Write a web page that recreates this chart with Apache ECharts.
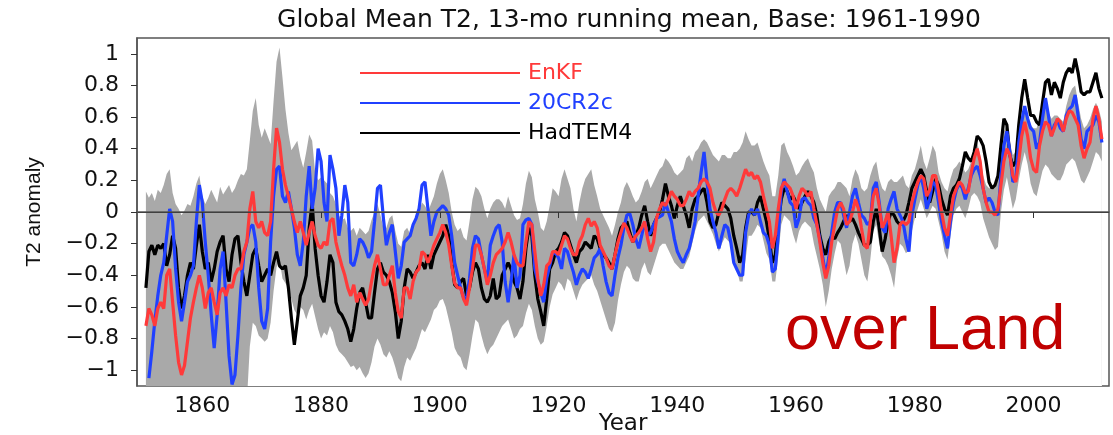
<!DOCTYPE html>
<html>
<head>
<meta charset="utf-8">
<script src="https://cdn.jsdelivr.net/npm/echarts@6/dist/echarts.min.js"></script>
<style>html,body{margin:0;padding:0;background:#fff;}#c{width:1113px;height:435px;}</style>
</head>
<body>
<div id="c"></div>
<script>
// Time axis: 13-month running mean sampled every half year
const startYear = 1850.5;
const stepYear = 0.5;
const xTicks = [1860, 1880, 1900, 1920, 1940, 1960, 1980, 2000];
const yTicks = [-1, -0.8, -0.6, -0.4, -0.2, 0, 0.2, 0.4, 0.6, 0.8, 1];

const hadtem4 = [
-0.48,-0.25,-0.21,-0.27,-0.21,-0.23,-0.2,-0.34,-0.27,-0.15,
-0.23,-0.48,-0.61,-0.53,-0.4,-0.32,-0.36,-0.21,-0.08,-0.25,
-0.36,-0.32,-0.44,-0.36,-0.25,-0.19,-0.15,-0.36,-0.44,-0.27,
-0.17,-0.15,-0.32,-0.44,-0.53,-0.4,-0.27,-0.23,-0.34,-0.44,
-0.4,-0.36,-0.4,-0.32,-0.25,-0.34,-0.36,-0.34,-0.48,-0.67,
-0.84,-0.69,-0.53,-0.48,-0.4,-0.1,0.06,-0.23,-0.4,-0.53,
-0.57,-0.44,-0.27,-0.32,-0.57,-0.63,-0.65,-0.69,-0.74,-0.82,
-0.74,-0.61,-0.51,-0.48,-0.57,-0.67,-0.67,-0.51,-0.36,-0.32,
-0.38,-0.4,-0.44,-0.51,-0.63,-0.8,-0.69,-0.48,-0.36,-0.38,
-0.42,-0.38,-0.34,-0.32,-0.36,-0.27,-0.36,-0.27,-0.23,-0.19,
-0.15,-0.08,-0.15,-0.32,-0.46,-0.48,-0.44,-0.42,-0.53,-0.48,
-0.38,-0.32,-0.36,-0.48,-0.55,-0.57,-0.53,-0.42,-0.55,-0.53,
-0.4,-0.36,-0.32,-0.36,-0.44,-0.48,-0.55,-0.44,-0.23,-0.1,
-0.15,-0.4,-0.55,-0.63,-0.72,-0.55,-0.36,-0.32,-0.25,-0.23,
-0.19,-0.13,-0.15,-0.21,-0.27,-0.32,-0.25,-0.23,-0.19,-0.21,
-0.23,-0.15,-0.17,-0.23,-0.27,-0.29,-0.32,-0.36,-0.27,-0.17,
-0.1,-0.08,-0.06,-0.13,-0.19,-0.15,-0.1,-0.02,0.04,-0.06,
-0.15,-0.08,-0.04,0,0.08,0.18,0.1,0.04,-0.04,0.04,
0.1,0.04,-0.02,-0.1,0.02,0.08,0.1,0.13,0.15,0.06,
-0.06,-0.1,-0.08,0,0.06,0.04,0.02,-0.04,-0.15,-0.23,
-0.32,-0.27,-0.1,0,0,-0.02,0.06,0.1,0.02,-0.06,
-0.17,-0.32,-0.27,-0.08,0.08,0.15,0.13,0.08,0.1,0.06,
0.02,0.06,0.1,0.13,0.1,0.06,-0.02,-0.15,-0.23,-0.27,
-0.19,-0.15,-0.17,-0.13,-0.1,-0.06,-0.02,-0.06,-0.04,-0.08,
-0.13,-0.17,-0.21,-0.21,-0.19,-0.06,0.02,-0.1,-0.25,-0.17,
-0.06,0,-0.02,-0.06,-0.08,-0.06,-0.02,0.06,0.15,0.19,
0.23,0.27,0.23,0.13,0.06,0.13,0.21,0.17,0.08,0.02,
-0.02,0.1,0.15,0.17,0.21,0.29,0.38,0.34,0.32,0.38,
0.48,0.46,0.42,0.32,0.19,0.15,0.17,0.23,0.42,0.59,
0.55,0.36,0.29,0.32,0.55,0.72,0.84,0.72,0.61,0.61,
0.57,0.55,0.69,0.82,0.84,0.74,0.82,0.78,0.72,0.82,
0.88,0.91,0.88,0.97,0.88,0.76,0.74,0.76,0.76,0.82,
0.88,0.78,0.72
];

const enkf = [
-0.72,-0.61,-0.65,-0.72,-0.61,-0.57,-0.61,-0.4,-0.36,-0.57,
-0.78,-0.95,-1.03,-0.97,-0.82,-0.67,-0.57,-0.48,-0.4,-0.48,
-0.61,-0.51,-0.48,-0.57,-0.65,-0.51,-0.48,-0.53,-0.46,-0.48,
-0.4,-0.36,-0.36,-0.25,-0.19,0.02,0.13,-0.06,-0.1,-0.06,
-0.13,-0.15,-0.06,0.27,0.53,0.44,0.27,0.17,0.1,0.02,
-0.06,-0.13,-0.06,-0.13,-0.21,-0.13,-0.06,-0.15,-0.21,-0.23,
-0.19,-0.21,-0.06,-0.04,-0.19,-0.27,-0.34,-0.4,-0.48,-0.53,
-0.46,-0.57,-0.51,-0.55,-0.59,-0.55,-0.44,-0.34,-0.27,-0.36,
-0.46,-0.46,-0.4,-0.34,-0.51,-0.63,-0.67,-0.48,-0.48,-0.55,
-0.44,-0.38,-0.36,-0.25,-0.27,-0.32,-0.27,-0.21,-0.17,-0.13,
-0.08,-0.13,-0.21,-0.34,-0.45,-0.48,-0.48,-0.55,-0.59,-0.48,
-0.36,-0.21,-0.21,-0.27,-0.36,-0.46,-0.4,-0.32,-0.27,-0.25,
-0.23,-0.19,-0.13,-0.19,-0.27,-0.32,-0.34,-0.34,-0.19,-0.06,
-0.08,-0.25,-0.42,-0.53,-0.46,-0.34,-0.32,-0.25,-0.25,-0.27,
-0.21,-0.15,-0.17,-0.23,-0.27,-0.27,-0.19,-0.15,-0.08,-0.04,
-0.09,-0.06,-0.1,-0.21,-0.25,-0.29,-0.34,-0.36,-0.27,-0.19,
-0.13,-0.07,-0.1,-0.15,-0.19,-0.15,-0.13,-0.1,-0.06,-0.17,
-0.25,-0.19,-0.04,0.02,0.06,0.04,0.08,0.13,0.1,0.08,
0.04,0.04,0.08,0.13,0.1,0.13,0.15,0.19,0.21,0.19,
0.15,0.06,0,-0.02,0.02,0.08,0.13,0.15,0.13,0.1,
0.15,0.21,0.27,0.23,0.25,0.21,0.23,0.19,0.1,0.02,
-0.06,-0.23,-0.15,0.02,0.15,0.19,0.17,0.15,0.1,0.02,
0.1,0.15,0.13,0.1,0.13,0.02,-0.08,-0.19,-0.32,-0.42,
-0.34,-0.19,-0.08,0.02,0.06,0.02,-0.08,-0.06,0,0.08,
0.02,-0.1,-0.21,-0.23,-0.06,0.1,0.15,0.04,-0.1,-0.06,
0,-0.15,-0.32,-0.23,-0.08,-0.06,-0.08,-0.06,0.06,0.13,
0.19,0.23,0.21,0.1,0.14,0.23,0.23,0.13,0,-0.1,
-0.15,-0.02,0.1,0.15,0.19,0.17,0.12,0.13,0.25,0.34,
0.4,0.32,0.15,0.06,0,0,-0.02,0.02,0.17,0.32,
0.4,0.36,0.23,0.19,0.32,0.48,0.57,0.48,0.34,0.27,
0.25,0.42,0.51,0.57,0.55,0.48,0.53,0.59,0.57,0.51,
0.59,0.64,0.63,0.59,0.55,0.42,0.34,0.4,0.44,0.59,
0.67,0.59,0.46
];

const cr20c = [
null,-1.05,-0.88,-0.69,-0.53,-0.4,-0.32,-0.15,0.02,-0.06,
-0.36,-0.57,-0.69,-0.57,-0.44,-0.4,-0.34,-0.06,0.17,0.06,
-0.19,-0.4,-0.65,-0.86,-0.65,-0.36,-0.25,-0.57,-0.91,-1.09,
-1.03,-0.78,-0.48,-0.27,-0.19,-0.1,-0.08,-0.19,-0.48,-0.69,
-0.74,-0.61,-0.19,0.1,0.27,0.29,0.1,0.06,0.13,0.02,
-0.1,-0.27,-0.34,-0.19,0.1,0.29,0.02,0.15,0.4,0.32,
0.06,-0.06,0.36,0.27,0.15,-0.15,-0.02,0.17,0.06,-0.32,
-0.34,-0.27,-0.17,-0.19,-0.23,-0.29,-0.25,-0.06,0.15,0.17,
-0.04,-0.21,-0.13,-0.08,-0.25,-0.42,-0.34,-0.19,-0.17,-0.15,
-0.08,-0.04,0.02,0.17,0.19,0.02,-0.15,-0.06,0,0.02,
0.04,0.02,-0.02,-0.15,-0.32,-0.4,-0.48,-0.54,-0.55,-0.42,
-0.23,-0.15,-0.17,-0.27,-0.36,-0.44,-0.21,-0.15,-0.1,-0.08,
-0.19,-0.44,-0.57,-0.44,-0.27,-0.48,-0.4,-0.08,-0.05,-0.04,
-0.08,-0.36,-0.44,-0.51,-0.57,-0.42,-0.34,-0.26,-0.26,-0.29,
-0.36,-0.23,-0.25,-0.32,-0.38,-0.46,-0.4,-0.36,-0.38,-0.42,
-0.36,-0.29,-0.27,-0.23,-0.34,-0.44,-0.51,-0.53,-0.4,-0.29,
-0.21,-0.1,-0.02,-0.01,-0.08,-0.17,-0.23,-0.15,-0.06,-0.15,
-0.13,-0.08,-0.04,-0.03,-0.02,0.06,0,-0.06,-0.17,-0.25,
-0.29,-0.32,-0.27,-0.23,-0.15,-0.06,0.1,0.25,0.38,0.19,
0.02,-0.06,-0.13,-0.23,-0.15,-0.08,-0.1,-0.19,-0.32,-0.36,
-0.4,-0.4,-0.13,-0.02,0.02,-0.02,0.02,-0.06,-0.13,-0.15,
-0.21,-0.38,-0.36,-0.15,0.13,0.21,0.13,0.06,0.04,-0.1,
-0.04,0.08,0.09,0.06,0.04,-0.04,-0.08,-0.17,-0.29,-0.4,
-0.29,-0.13,0,0.06,0.06,-0.02,-0.1,0,0.1,0.15,
0.06,-0.02,-0.04,-0.08,-0.06,0.15,0.19,0.06,-0.1,-0.13,
0.02,0.08,0.13,0.02,-0.02,-0.06,-0.17,-0.25,-0.02,0.08,
0.17,0.23,0.15,0.02,0.08,0.19,0.17,0.06,-0.06,-0.15,
-0.23,-0.06,0.06,0.14,0.18,0.15,0.08,0.15,0.23,0.27,
0.29,0.23,0.15,0.06,0.09,0.06,0,-0.02,0.23,0.42,
0.51,0.38,0.19,0.21,0.44,0.57,0.67,0.59,0.53,0.51,
0.4,0.44,0.59,0.72,0.61,0.48,0.55,0.58,0.53,0.51,
0.61,0.65,0.67,0.74,0.61,0.46,0.4,0.51,0.53,0.55,
0.61,0.57,0.44
];

const spreadUpper = [
0.13,0.09,0.12,0.07,0.14,0.12,0.17,0.24,0.27,0.12,
0.05,0.02,-0.02,0.01,0.05,0.04,0.1,0.18,0.23,0.1,
0.05,0.09,0.14,0.1,0.06,0.16,0.11,0.14,0.17,0.12,
0.15,0.2,0.24,0.23,0.27,0.45,0.64,0.72,0.55,0.47,
0.53,0.48,0.43,0.7,0.95,1.04,0.85,0.65,0.5,0.39,
0.42,0.45,0.35,0.28,0.38,0.49,0.45,0.25,0.2,0.22,
0.2,0.18,0.12,0.1,0.05,-0.02,-0.05,-0.04,-0.1,-0.12,
-0.1,-0.15,-0.1,-0.12,-0.14,-0.12,-0.05,0,0.05,-0.02,
-0.1,-0.1,-0.04,-0.02,-0.12,-0.2,-0.22,-0.12,-0.1,-0.14,
-0.08,-0.04,0,0.06,0.04,0,0.05,0.1,0.18,0.24,
0.27,0.2,0.12,0,-0.08,-0.12,-0.1,-0.16,-0.18,-0.06,
0.08,0.16,0.14,0.1,0.02,-0.04,0.02,0.06,0.08,0.08,
0.06,0.02,0.1,0.04,-0.02,-0.05,-0.04,0.05,0.18,0.26,
0.22,0.08,0,-0.1,-0.12,-0.06,0.04,0.15,0.13,0.1,
0.21,0.27,0.21,0.15,0.02,-0.06,0.06,0.15,0.21,0.24,
0.27,0.17,0.1,0.02,-0.02,-0.06,-0.1,-0.15,-0.08,0,
0.06,0.15,0.19,0.15,0.1,0.06,0.08,0.13,0.19,0.21,
0.15,0.19,0.23,0.27,0.29,0.34,0.32,0.29,0.25,0.23,
0.25,0.27,0.34,0.36,0.32,0.38,0.4,0.44,0.46,0.44,
0.4,0.36,0.34,0.32,0.36,0.36,0.34,0.34,0.38,0.38,
0.4,0.44,0.51,0.46,0.42,0.42,0.44,0.38,0.32,0.27,
0.23,0.1,0.1,0.23,0.42,0.44,0.38,0.34,0.29,0.23,
0.25,0.29,0.32,0.34,0.29,0.25,0.15,0.08,0.04,0,
0.1,0.13,0.15,0.19,0.19,0.17,0.15,0.1,0.21,0.27,
0.23,0.15,0.13,0.15,0.23,0.29,0.32,0.21,0.15,0.13,
0.19,0.21,0.19,0.19,0.21,0.23,0.17,0.15,0.23,0.27,
0.34,0.42,0.32,0.27,0.34,0.42,0.38,0.25,0.19,0.15,
0.13,0.21,0.27,0.29,0.32,0.29,0.25,0.27,0.32,0.34,
0.44,0.36,0.23,0.17,0.15,0.15,0.17,0.23,0.38,0.51,
0.55,0.44,0.36,0.38,0.48,0.59,0.63,0.59,0.55,0.53,
0.53,0.59,0.67,0.69,0.63,0.59,0.61,0.61,0.59,0.57,
0.67,0.74,0.78,0.8,0.69,0.59,0.53,0.55,0.59,0.65,
0.69,0.65,0.57
];

const spreadLower = [
-1.2,-1.2,-1.2,-1.2,-1.2,-1.2,-1.2,-1.2,-1.2,-1.2,
-1.2,-1.2,-1.2,-1.2,-1.2,-1.2,-1.2,-1.2,-1.2,-1.2,
-1.2,-1.2,-1.2,-1.2,-1.2,-1.2,-1.2,-1.2,-1.2,-1.2,
-1.2,-1.2,-1.2,-1.2,-1.2,-0.85,-0.7,-0.72,-0.78,-0.8,
-0.82,-0.8,-0.7,-0.5,-0.35,-0.3,-0.42,-0.45,-0.48,-0.55,
-0.62,-0.65,-0.6,-0.62,-0.68,-0.62,-0.58,-0.66,-0.74,-0.8,
-0.76,-0.78,-0.72,-0.76,-0.84,-0.88,-0.9,-0.92,-0.95,-0.98,
-0.97,-1.0,-0.98,-1.02,-1.05,-1.02,-0.95,-0.85,-0.8,-0.84,
-0.9,-0.92,-0.88,-0.92,-0.98,-1.05,-1.07,-0.98,-0.92,-0.94,
-0.9,-0.86,-0.8,-0.74,-0.76,-0.72,-0.68,-0.62,-0.6,-0.56,
-0.55,-0.6,-0.68,-0.76,-0.86,-0.9,-0.92,-0.98,-1.0,-0.9,
-0.78,-0.68,-0.7,-0.78,-0.85,-0.9,-0.86,-0.84,-0.8,-0.76,
-0.72,-0.7,-0.68,-0.74,-0.8,-0.78,-0.74,-0.72,-0.64,-0.58,
-0.62,-0.72,-0.8,-0.84,-0.82,-0.72,-0.6,-0.52,-0.48,-0.44,
-0.46,-0.5,-0.42,-0.44,-0.5,-0.56,-0.5,-0.46,-0.44,-0.42,
-0.4,-0.46,-0.5,-0.56,-0.62,-0.68,-0.74,-0.76,-0.7,-0.56,
-0.46,-0.38,-0.34,-0.36,-0.42,-0.44,-0.44,-0.36,-0.32,-0.38,
-0.4,-0.34,-0.28,-0.22,-0.2,-0.2,-0.24,-0.28,-0.32,-0.34,
-0.36,-0.36,-0.32,-0.28,-0.2,-0.12,-0.06,-0.04,-0.02,-0.06,
-0.1,-0.14,-0.2,-0.25,-0.2,-0.16,-0.18,-0.2,-0.28,-0.36,
-0.44,-0.44,-0.3,-0.15,-0.15,-0.12,-0.08,-0.1,-0.18,-0.26,
-0.3,-0.44,-0.44,-0.28,-0.08,-0.02,-0.04,-0.06,-0.14,-0.2,
-0.12,-0.08,-0.06,-0.08,-0.1,-0.2,-0.28,-0.36,-0.46,-0.6,
-0.5,-0.36,-0.26,-0.18,-0.2,-0.3,-0.4,-0.34,-0.2,-0.14,
-0.2,-0.3,-0.4,-0.44,-0.3,-0.12,-0.08,-0.2,-0.28,-0.3,
-0.34,-0.4,-0.48,-0.3,-0.2,-0.22,-0.26,-0.24,-0.12,-0.04,
0.02,0.08,0.02,-0.04,0,0.04,0.02,-0.06,-0.14,-0.25,
-0.3,-0.15,-0.02,0.02,0.04,0,-0.04,0.02,0.1,0.12,
0.1,0.06,-0.04,-0.1,-0.16,-0.2,-0.24,-0.22,0,0.14,
0.22,0.12,0.02,0.08,0.2,0.3,0.38,0.3,0.18,0.12,
0.1,0.18,0.26,0.3,0.28,0.24,0.22,0.2,0.2,0.24,
0.3,0.32,0.34,0.32,0.26,0.2,0.18,0.22,0.26,0.32,
0.38,0.36,0.32
];

function toPairs(arr) {
  return arr.map(function (v, i) { return [startYear + i * stepYear, v]; });
}

const RED = '#ff3a3a', BLUE = '#2040ff', BLACK = '#000000', GRAY = '#a9a9a9';
const FONT = 'DejaVu Sans';

const chart = echarts.init(document.getElementById('c'), null, { renderer: 'canvas' });
chart.setOption({
  animation: false,
  backgroundColor: '#ffffff',
  title: {
    text: 'Global Mean T2, 13-mo running mean, Base: 1961-1990',
    left: 624, top: 3, textAlign: 'center',
    textStyle: { fontFamily: FONT, fontSize: 25, fontWeight: 'normal', color: '#111' }
  },
  legend: {
    orient: 'vertical', left: 355, top: 57,
    icon: 'rect', itemWidth: 160, itemHeight: 2, itemGap: 8,
    textStyle: { fontFamily: FONT, fontSize: 22, lineHeight: 22, padding: [0, 0, 0, 3] },
    data: [
      { name: 'EnKF', textStyle: { color: RED } },
      { name: '20CR2c', textStyle: { color: BLUE } },
      { name: 'HadTEM4', textStyle: { color: BLACK } }
    ]
  },
  grid: {
    left: 137, right: 4, top: 38, bottom: 49, containLabel: false, outerBoundsMode: 'none',
    show: true, borderColor: '#555', borderWidth: 1.5, backgroundColor: '#fff'
  },
  xAxis: {
    type: 'value', min: 1849, max: 2012.7, z: 10,
    name: 'Year', nameLocation: 'middle', nameGap: 27, nameMoveOverlap: false,
    nameTextStyle: { fontFamily: FONT, fontSize: 23, color: '#111', verticalAlign: 'top' },
    axisLine: { show: true, lineStyle: { color: '#555', width: 1.5 } },
    axisTick: { show: true, inside: false, length: 6, customValues: xTicks, lineStyle: { color: '#333' } },
    axisLabel: {
      customValues: xTicks, margin: 9, fontFamily: FONT, fontSize: 22, color: '#111',
      formatter: function (v) { return String(v); }
    },
    splitLine: { show: false }
  },
  yAxis: {
    type: 'value', min: -1.1, max: 1.1, z: 10,
    name: 'T2 anomaly', nameLocation: 'middle', nameGap: 92, nameRotate: 90, nameMoveOverlap: false,
    nameTextStyle: { fontFamily: 'Liberation Sans', fontSize: 21, color: '#111' },
    axisLine: { show: true, lineStyle: { color: '#555', width: 1.5 } },
    axisTick: { show: true, inside: false, length: 6, customValues: yTicks, lineStyle: { color: '#333' } },
    axisLabel: {
      customValues: yTicks, margin: 18, fontFamily: FONT, fontSize: 22, color: '#111',
      formatter: function (v) { return String(v).replace('-', '\u2212'); }
    },
    splitLine: { show: false }
  },
  graphic: [{
    type: 'text', left: 785, top: 300, z: 100,
    style: { text: 'over Land', font: '63px "Liberation Sans"', fill: '#c00000' }
  }],
  series: [
    {
      name: 'spread upper', type: 'line', data: toPairs(spreadUpper), symbol: 'none',
      lineStyle: { width: 0, opacity: 0 }, areaStyle: { color: GRAY, opacity: 1, origin: 'start' },
      silent: true, z: 1
    },
    {
      name: 'spread lower', type: 'line', data: toPairs(spreadLower), symbol: 'none',
      lineStyle: { width: 0, opacity: 0 }, areaStyle: { color: '#ffffff', opacity: 1, origin: 'start' },
      silent: true, z: 1,
      markLine: {
        silent: true, symbol: ['none', 'none'], label: { show: false },
        lineStyle: { color: '#000', width: 1, type: 'solid' },
        data: [{ yAxis: 0 }]
      }
    },
    { name: 'HadTEM4', type: 'line', data: toPairs(hadtem4), symbol: 'none', lineStyle: { color: BLACK, width: 3.2 }, itemStyle: { color: BLACK }, z: 3 },
    { name: '20CR2c', type: 'line', data: toPairs(cr20c), symbol: 'none', lineStyle: { color: BLUE, width: 3.2 }, itemStyle: { color: BLUE }, z: 3 },
    { name: 'EnKF', type: 'line', data: toPairs(enkf), symbol: 'none', lineStyle: { color: RED, width: 3.2 }, itemStyle: { color: RED }, z: 3 }
  ]
});
</script>
</body>
</html>
